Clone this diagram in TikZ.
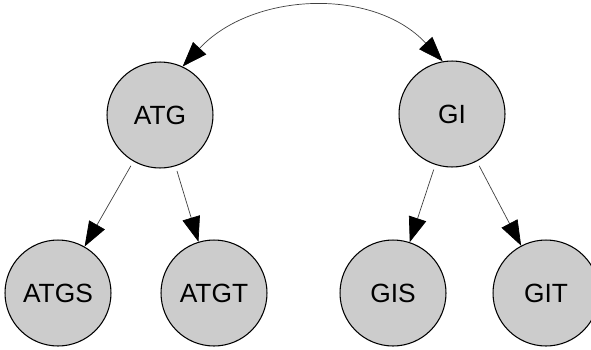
\documentclass[tikz,border=0pt]{standalone}
\usepackage{fontspec}
\setmainfont{Liberation Sans}
\usetikzlibrary{arrows.meta}
\definecolor{nodegray}{RGB}{204,204,204}
\tikzset{
  state/.style={circle,draw,fill=nodegray,line width=0.6pt,minimum size=2.12cm,inner sep=0pt,
    font=\fontsize{15}{18}\selectfont},
  bigtip/.tip={Triangle[length=0.5cm,width=0.36cm,color=black]},
  link/.style={-bigtip,line width=0.4pt,draw=black!75,shorten <=0.1cm}
}
\begin{document}
\begin{tikzpicture}[x=0.02cm,y=-0.02cm]
\clip (0,0) rectangle (591,349);
\useasboundingbox (0,0) rectangle (591,349);

% top level
\node[state] (ATG) at (160,115) {ATG};
\node[state] (GI) at (452,114) {GI};

% leaves
\node[state] (ATGS) at (58,293) {ATGS};
\node[state] (ATGT) at (214,293) {ATGT};
\node[state] (GIS) at (393,293) {GIS};
\node[state] (GIT) at (546,293) {GIT};

% the tree
\draw[link] (ATG) -- (ATGS);
\draw[link] (ATG) -- (ATGT);
\draw[link] (GI) -- (GIS);
\draw[link] (GI) -- (GIT);

% between the roots
\draw[link,bigtip-bigtip,shorten <=0pt] (ATG.65) to[out=47,in=133] (GI.100);
\end{tikzpicture}
\end{document}
